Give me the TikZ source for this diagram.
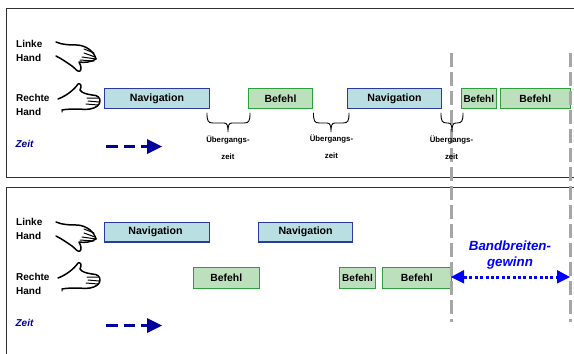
\documentclass[tikz,border=0pt]{standalone}
\usepackage{fontspec}
\setmainfont{Liberation Sans}
\definecolor{navfill}{HTML}{B9DFE3}
\definecolor{navline}{HTML}{2B3A9E}
\definecolor{cmdfill}{HTML}{BCDFBC}
\definecolor{cmdline}{HTML}{2E9E3C}
\definecolor{zeitblue}{HTML}{00009C}
\definecolor{gaingrey}{HTML}{A6A6A6}
\definecolor{framegrey}{HTML}{303030}
\tikzset{
  x=1pt,y=-1pt,
  navbox/.style={draw=navline,fill=navfill,line width=1.1pt,inner sep=0pt,font=\fontsize{10.6}{12}\bfseries\selectfont,text=black},
  cmdbox/.style={draw=cmdline,fill=cmdfill,line width=1.1pt,inner sep=0pt,font=\fontsize{10.4}{12}\bfseries\selectfont,text=black},
  handlabel/.style={align=left,anchor=west,inner sep=0pt,font=\fontsize{10}{13.8}\bfseries\selectfont,text=black},
  zeitlabel/.style={inner sep=0pt,font=\fontsize{10}{11}\bfseries\itshape\selectfont,text=zeitblue},
  gaplabel/.style={inner sep=0pt,align=center,font=\fontsize{7.8}{17}\bfseries\selectfont,text=black},
  gapbrace/.style={draw=black,line width=.9pt,line cap=round},
  frameline/.style={draw=framegrey,line width=1pt},
  limitline/.style={draw=gaingrey,line width=3pt,dash pattern=on 14pt off 5pt},
  timearrow/.style={draw=zeitblue,line width=3pt,dash pattern=on 12pt off 5.5pt},
  handline/.style={draw=black,line width=1pt,line cap=round,line join=round},
  handthick/.style={draw=black,line width=1.5pt,line cap=round,line join=round},
}
\newcommand{\lefthand}[2]{%
\begin{scope}[shift={(#1,#2)}]
  \draw[handthick] (0,0) .. controls (7,3) and (14,3) .. (22,3) .. controls (30,4) and (38,9) .. (40,17);
  \draw[handline] (28,7) -- (38,11) (28,11) -- (39,15) (26,15) -- (40,17) (24,18) -- (38,19);
  \draw[handthick] (40,17) .. controls (36,20) and (28,21) .. (23,20) .. controls (25,24) and (26,27) .. (24,29) .. controls (21,30) and (20,27) .. (16,24) .. controls (10,20) and (6,17) .. (0,14);
\end{scope}}
\newcommand{\righthand}[2]{%
\begin{scope}[shift={(#1,#2)}]
  \draw[handthick] (0,16) .. controls (8,13) and (16,7) .. (20,1) .. controls (23,0) and (24,3) .. (22,7) .. controls (24,10) and (28,11) .. (34,12) .. controls (40,12) and (42,15) .. (42,18) .. controls (42,22) and (38,25) .. (32,26) .. controls (26,27) and (14,25) .. (4,27);
  \draw[handline] (4,27) -- (4,29) (29,15) -- (40,15) (30,18) -- (41,19) (28,21) -- (40,22);
\end{scope}}
\newcommand{\gapbrace}[3]{% left, centre, right
  \draw[gapbrace] (#1,113) .. controls (#1,121) and (#1+1,123) .. (#1+6,123) -- (#2-4,123)
    .. controls (#2-1,123) and (#2,125) .. (#2,132)
    .. controls (#2,125) and (#2+1,123) .. (#2+4,123) -- (#3-6,123)
    .. controls (#3-1,123) and (#3,121) .. (#3,113);}
\begin{document}
\begin{tikzpicture}
\useasboundingbox (0,0) rectangle (574,354);
\fill[white] (0,0) rectangle (574,354);

% frames
\draw[frameline] (574,8.5) -- (6,8.5) -- (6,177) -- (574,177);
\draw[frameline] (574,187) -- (6,187) -- (6,354);

% top row
\lefthand{56}{42}
\righthand{58}{83}
\node[navbox,minimum width=104.5pt,minimum height=19.5pt] (n1) at (157,98.5) {\raisebox{-1.5pt}{Navigation}};
\node[cmdbox,minimum width=64pt,minimum height=19.5pt] (b1) at (280.5,98.5) {Befehl};
\node[navbox,minimum width=94.5pt,minimum height=19.5pt] (n2) at (394.5,98.5) {Navigation};
\node[cmdbox,minimum width=35.5pt,minimum height=19.5pt] (b2) at (478.8,98.5) {\fontsize{10}{12}\selectfont Befehl};
\node[cmdbox,minimum width=69.5pt,minimum height=19.5pt] (b3) at (535.3,98.5) {Befehl};

% bottom row
\lefthand{56}{222}
\righthand{58}{262}
\node[navbox,minimum width=104.5pt,minimum height=19.5pt] (n3) at (157,232.2) {\hspace*{-3pt}Navigation};
\node[navbox,minimum width=94.6pt,minimum height=19.5pt] (n4) at (305.6,232.2) {Navigation};
\node[cmdbox,minimum width=65.5pt,minimum height=20.5pt] (b4) at (226.3,277.8) {Befehl};
\node[cmdbox,minimum width=36pt,minimum height=20.5pt] (b5) at (357.5,277.8) {\fontsize{10}{12}\selectfont Befehl};
\node[cmdbox,minimum width=69.5pt,minimum height=20.5pt] (b6) at (416.8,277.8) {Befehl};

% limit lines
\coordinate (v1a) at (451,53);
\coordinate (v1b) at (451,322);
\coordinate (v2a) at (570,53);
\coordinate (v2b) at (570,322);
\draw[limitline] (v1a) -- (v1b);
\draw[limitline] (v2a) -- (v2b);

% braces
\gapbrace{207}{228}{250}
\gapbrace{313.5}{331}{349}
\gapbrace{441}{452}{463}

% labels
\node[handlabel] (l1) at (16,51.3) {Linke\\Hand};
\node[handlabel] (r1) at (16,105) {Rechte\\Hand};
\node[zeitlabel] (z1) at (24.5,144) {Zeit};
\node[gaplabel] (t1) at (228,147.5) {Übergangs-\\zeit};
\node[gaplabel] (t2) at (331.5,147) {Übergangs-\\zeit};
\node[gaplabel] (t3) at (451.5,147.5) {Übergangs-\\zeit};
\node[handlabel] (l2) at (16,228.8) {Linke\\Hand};
\node[handlabel] (r2) at (16,283.7) {Rechte\\Hand};
\node[zeitlabel] (z2) at (24.5,323) {Zeit};

% time arrows
\coordinate (a1s) at (106,146.5);
\coordinate (a1e) at (135,146.5);
\draw[timearrow] (a1s) -- (a1e);
\fill[zeitblue] (162,146.5) -- (147,139) -- (147,154) -- cycle;
\fill[zeitblue] (141,145) rectangle (148,148);
\coordinate (a2s) at (106,325.5);
\coordinate (a2e) at (135,325.5);
\draw[timearrow] (a2s) -- (a2e);
\fill[zeitblue] (162,325.5) -- (147,318) -- (147,333) -- cycle;
\fill[zeitblue] (141,324) rectangle (148,327);

% gain arrow
\coordinate (ga) at (451,277);
\coordinate (gb) at (570,277);
\draw[blue,line width=3pt,dash pattern=on 3pt off 2.4pt] (464,277) -- (558,277);
\fill[blue] (ga) -- (464,270) -- (464,283.5) -- cycle;
\fill[blue] (gb) -- (557,270) -- (557,283.5) -- cycle;
\node[inner sep=0pt,align=center,text=blue,font=\fontsize{13.3}{16}\bfseries\itshape\selectfont] (gain) at (510,255.5) {Bandbreiten-\\gewinn};
\end{tikzpicture}
\end{document}
